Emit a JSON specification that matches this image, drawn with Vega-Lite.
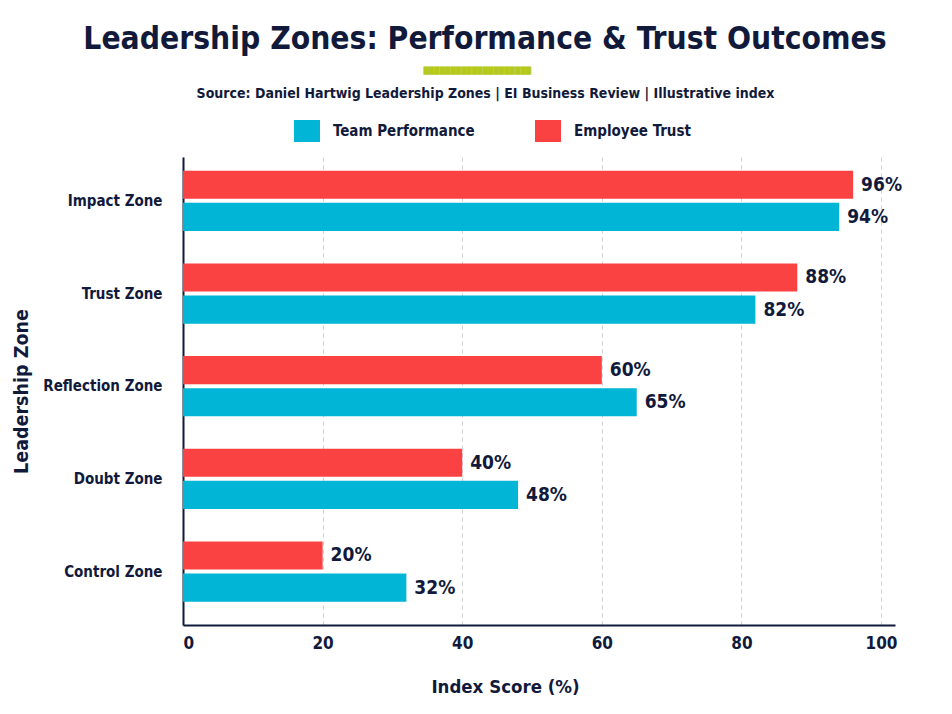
{
  "$schema": "https://vega.github.io/schema/vega-lite/v6.json",
  "width": 712,
  "height": 468,
  "autosize": "none",
  "padding": {"left": 183, "top": 157, "right": 57, "bottom": 89},
  "background": "white",
  "title": {
    "text": "Leadership Zones: Performance & Trust Outcomes",
    "subtitle": "████████████████████\u2800\u2800\u2800",
    "anchor": "middle",
    "frame": "group",
    "dx": -54,
    "font": "DejaVu Sans Condensed, Roboto, sans-serif",
    "fontSize": 31.5,
    "fontWeight": "bold",
    "color": "#111a3b",
    "subtitleFont": "DejaVu Sans",
    "subtitleFontSize": 7,
    "subtitleColor": "#b5c91c",
    "subtitlePadding": 12,
    "offset": 12
  },
  "data": {
    "values": [
      {"zone": "Impact Zone", "series": "Employee Trust", "value": 96, "label": "96%"},
      {"zone": "Impact Zone", "series": "Team Performance", "value": 94, "label": "94%"},
      {"zone": "Trust Zone", "series": "Employee Trust", "value": 88, "label": "88%"},
      {"zone": "Trust Zone", "series": "Team Performance", "value": 82, "label": "82%"},
      {"zone": "Reflection Zone", "series": "Employee Trust", "value": 60, "label": "60%"},
      {"zone": "Reflection Zone", "series": "Team Performance", "value": 65, "label": "65%"},
      {"zone": "Doubt Zone", "series": "Employee Trust", "value": 40, "label": "40%"},
      {"zone": "Doubt Zone", "series": "Team Performance", "value": 48, "label": "48%"},
      {"zone": "Control Zone", "series": "Employee Trust", "value": 20, "label": "20%"},
      {"zone": "Control Zone", "series": "Team Performance", "value": 32, "label": "32%"}
    ]
  },
  "encoding": {
    "y": {
      "field": "zone",
      "type": "nominal",
      "sort": ["Impact Zone", "Trust Zone", "Reflection Zone", "Doubt Zone", "Control Zone"],
      "scale": {"paddingInner": 0.35, "paddingOuter": 0.2, "align": 0.37},
      "axis": {
        "title": "Leadership Zone",
        "titleFont": "DejaVu Sans Condensed, Roboto, sans-serif",
        "titleFontSize": 19.5,
        "titleFontWeight": "bold",
        "titleColor": "#111a3b",
        "titlePadding": 11,
        "labelFont": "DejaVu Sans Condensed, Roboto, sans-serif",
        "labelFontSize": 15,
        "labelFontWeight": "bold",
        "labelColor": "#111a3b",
        "labelPadding": 21,
        "ticks": false,
        "domainColor": "#111a3b",
        "domainWidth": 2,
        "grid": false
      }
    },
    "yOffset": {
      "field": "series",
      "type": "nominal",
      "sort": ["Employee Trust", "Team Performance"],
      "scale": {"paddingInner": 0.125}
    }
  },
  "layer": [
    {
      "mark": {"type": "bar", "cornerRadius": 0},
      "encoding": {
        "x": {
          "field": "value",
          "type": "quantitative",
          "scale": {"domain": [0, 102], "nice": false},
          "axis": {
            "title": "Index Score (%)",
            "values": [0, 20, 40, 60, 80, 100],
            "titleFont": "DejaVu Sans Condensed, Roboto, sans-serif",
            "titleFontSize": 18.5,
            "titleFontWeight": "bold",
            "titleColor": "#111a3b",
            "titlePadding": 26,
            "titleX": 322,
            "titleAlign": "center",
            "labelFont": "DejaVu Sans Condensed, Roboto, sans-serif",
            "labelFontSize": 17,
            "labelFontWeight": "bold",
            "labelColor": "#111a3b",
            "labelPadding": 10,
            "ticks": false,
            "domainColor": "#111a3b",
            "domainWidth": 2,
            "grid": true,
            "gridColor": "#cfcfcf",
            "gridDash": [4, 4],
            "gridWidth": 1
          }
        },
        "color": {
          "field": "series",
          "type": "nominal",
          "scale": {"domain": ["Team Performance", "Employee Trust"], "range": ["#00b5d6", "#fb4242"]},
          "legend": {
            "title": null,
            "orient": "none",
            "direction": "horizontal",
            "legendX": 113,
            "legendY": -37,
            "symbolType": "M-1.18,-1H1.18V1H-1.18Z",
            "symbolSize": 484,
            "symbolStrokeWidth": 0,
            "labelFont": "DejaVu Sans Condensed, Roboto, sans-serif",
            "labelFontSize": 15,
            "labelFontWeight": "bold",
            "labelColor": "#111a3b",
            "labelOffset": 15,
            "columnPadding": 60
          }
        }
      }
    },
    {
      "mark": {
        "type": "text",
        "align": "left",
        "baseline": "middle",
        "dx": 8,
        "font": "DejaVu Sans Condensed, Roboto, sans-serif",
        "fontSize": 19,
        "fontWeight": "bold",
        "color": "#111a3b"
      },
      "encoding": {
        "x": {
          "field": "value",
          "type": "quantitative",
          "axis": {
            "orient": "top",
            "title": "Source: Daniel Hartwig Leadership Zones | EI Business Review | Illustrative index",
            "titleFont": "DejaVu Sans Condensed, Roboto, sans-serif",
            "titleFontSize": 14,
            "titleFontWeight": "bold",
            "titleColor": "#111a3b",
            "titleX": 302,
            "titleAlign": "center",
            "titlePadding": 57,
            "labels": false,
            "ticks": false,
            "domain": false,
            "grid": false
          }
        },
        "text": {"field": "label"}
      }
    }
  ],
  "resolve": {"axis": {"x": "independent"}},
  "config": {"view": {"stroke": null}}
}
